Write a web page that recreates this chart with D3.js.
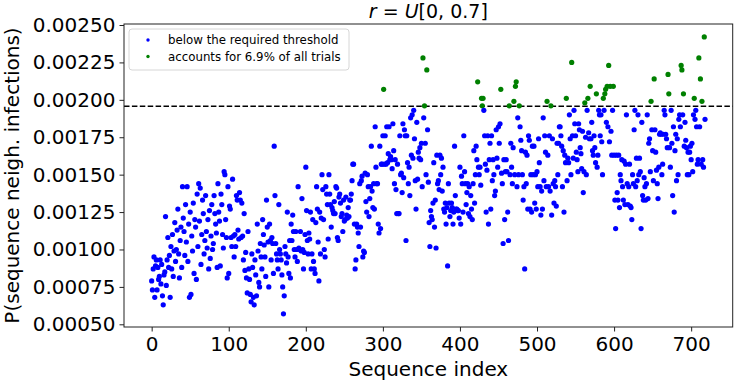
<!DOCTYPE html>
<html>
<head>
<meta charset="utf-8">
<script src="https://cdn.jsdelivr.net/npm/d3@7"></script>
<style>
	body { margin: 0; background: #fff; }
	svg { display: block; font-family: "DejaVu Sans", sans-serif; }
</style>
</head>
<body>
<div id="chart"></div>
<script>
// P(sequence neigh. infections) per sequence, in units of 1e-5, index 0..718
const SEQ_VALUES = [
	79,73,87,95,68,89,93,73,88,80, 82,93,77,90,69,63,83,85,122,76,
	93,108,88,96,68,102,87,110,82,99, 118,92,100,113,127,97,81,106,115,88,
	142,121,112,96,130,105,142,92,117,68, 125,70,109,99,131,84,120,115,80,137,
	102,144,119,141,90,110,133,124,97,106, 136,112,101,120,87,126,94,109,130,100,
	104,136,124,117,111,88,144,125,119,89, 137,130,110,101,152,150,120,108,81,142,
	84,129,127,108,102,147,109,95,110,102, 136,133,113,107,138,133,108,131,109,93,
	124,86,98,81,71,112,87,80,70,65, 97,88,68,63,93,83,69,117,99,78,
	75,104,95,87,120,110,103,95,82,133, 115,105,75,117,106,93,108,104,84,169,
	136,104,97,93,87,130,100,97,93,83, 75,57,69,102,97,91,125,95,84,106,
	81,117,106,123,112,100,95,112,100,92, 142,101,100,112,99,134,100,87,98,110,
	155,126,106,97,111,107,125,87,97,120, 92,87,84,118,142,127,105,79,125,97,
	121,150,140,120,100,95,142,137,130,107, 150,137,130,115,128,126,124,132,124,142,
	141,108,106,135,137,131,122,124,112,133, 119,120,135,123,121,128,122,133,133,137,
	146,157,157,117,87,93,117,115,111,102, 144,115,146,149,95,99,98,151,132,125,
	150,142,122,134,142,169,139,128,144,127, 182,155,144,144,117,111,169,114,157,157,
	176,207,157,176,157,182,158,164,182,160, 162,160,154,184,166,144,160,140,124,157,
	124,124,176,150,151,138,184,148,180,176, 106,176,158,144,155,136,188,163,190,161,
	193,174,146,127,185,147,165,161,168,160, 171,142,228,188,196,171,150,220,180,145,
	118,102,126,122,120,131,158,115,133,101, 163,144,146,140,163,150,161,139,155,127,
	125,131,117,128,89,144,131,122,126,131, 128,117,125,169,136,127,127,126,126,121,
	155,117,149,144,125,176,152,144,130,138, 144,124,142,122,136,127,120,144,166,131,
	150,169,160,212,155,150,155,143,201,196, 201,193,176,157,125,153,176,117,160,171,
	127,176,146,160,150,136,139,180,161,155, 182,171,184,207,151,144,104,160,120,152,
	160,152,125,106,196,150,171,155,144,168, 199,150,209,212,142,188,150,196,182,173,
	166,150,133,142,87,165,144,163,127,176, 173,127,150,125,169,150,169,131,150,127,
	152,142,174,158,142,123,139,127,188,146, 176,165,142,199,163,142,176,139,196,123,
	174,144,131,146,142,129,171,150,171,182, 182,176,169,142,166,125,163,158,201,146,
	161,158,190,174,150,225,176,161,193,184, 176,165,160,152,184,180,168,164,154,179,
	138,152,198,175,150,193,201,178,174,209, 174,185,166,163,176,168,158,204,155,163,
	193,190,176,190,172,150,201,193,204,207, 185,209,182,223,172,209,179,163,193,209,
	163,133,114,163,138,133,163,128,150,146, 160,142,133,159,130,157,190,144,130,142,
	157,129,128,120,150,144,180,193,142,161, 146,190,150,161,152,114,185,136,133,148,
	142,133,144,190,134,171,174,152,199,180, 166,146,214,180,165,153,144,134,155,177,
	178,177,150,157,177,193,190,177,174,168, 217,204,168,155,193,171,136,182,125,166,
	177,146,174,150,187,190,182,223,220,190, 204,169,185,173,168,150,165,150,165,169,
	160,171,152,190,201,187,193,182,157,160, 228,182,214,157,199,160,155,242,187
];
const VALUE_UNIT = 1e-5;
const THRESHOLD = 0.001957;
const X_TICKS = [0, 100, 200, 300, 400, 500, 600, 700];
const Y_TICKS = [0.0005, 0.00075, 0.001, 0.00125, 0.0015, 0.00175, 0.002, 0.00225, 0.0025];
const LEGEND_LABELS = ['below the required threshold', 'accounts for 6.9% of all trials'];

const WIDTH = 734;
const HEIGHT = 382;
const PLOT = { left: 124, right: 732.7, top: 24, bottom: 327 };
const COLORS = ['#0000ff', '#008000'];

const data = SEQ_VALUES.map((v, i) => ({ index: i, value: v * VALUE_UNIT }));

const svg = d3.select('#chart')
	.append('svg')
		.attr('width', WIDTH)
		.attr('height', HEIGHT);

const x = d3.scaleLinear()
	.domain([-35.9, 753.9])
	.range([PLOT.left, PLOT.right]);

const y = d3.scaleLinear()
	.domain([0.000482, 0.0025067])
	.range([PLOT.bottom, PLOT.top]);

const xAxisCall = d3.axisBottom(x)
	.tickValues(X_TICKS)
	.tickSize(4.5)
	.tickPadding(4)
	.tickFormat(d3.format('d'));
const yAxisCall = d3.axisLeft(y)
	.tickValues(Y_TICKS)
	.tickSize(4.5)
	.tickPadding(4)
	.tickFormat(d3.format('.5f'));

const xAxis = svg.append('g')
	.attr('transform', `translate(0, ${PLOT.bottom})`)
	.call(xAxisCall);
const yAxis = svg.append('g')
	.attr('transform', `translate(${PLOT.left}, 0)`)
	.call(yAxisCall);

[xAxis, yAxis].forEach(g => {
	g.select('.domain').remove();
	g.selectAll('line').attr('stroke', '#222').attr('stroke-width', 1);
	g.selectAll('text')
		.attr('fill', '#000')
		.attr('font-size', 20)
		.attr('font-family', '"DejaVu Sans", sans-serif');
});
xAxis.selectAll('text').attr('dy', '0.78em');

// threshold line
svg.append('line')
	.attr('x1', PLOT.left)
	.attr('x2', PLOT.right)
	.attr('y1', y(THRESHOLD))
	.attr('y2', y(THRESHOLD))
	.attr('stroke', '#000')
	.attr('stroke-width', 1.5)
	.attr('stroke-dasharray', '5.5,2.4');

svg.append('g')
	.selectAll('circle')
	.data(data)
	.enter()
	.append('circle')
		.attr('cx', d => x(d.index))
		.attr('cy', d => y(d.value))
		.attr('r', 2.6)
		.attr('fill', d => d.value > THRESHOLD ? COLORS[1] : COLORS[0]);

// frame
svg.append('rect')
	.attr('x', PLOT.left)
	.attr('y', PLOT.top)
	.attr('width', PLOT.right - PLOT.left)
	.attr('height', PLOT.bottom - PLOT.top)
	.attr('fill', 'none')
	.attr('stroke', '#222')
	.attr('stroke-width', 1);

// legend
const legend = svg.append('g');
legend.append('rect')
	.attr('x', 129)
	.attr('y', 29)
	.attr('width', 220)
	.attr('height', 41)
	.attr('rx', 3)
	.attr('fill', '#fff')
	.attr('fill-opacity', 0.8)
	.attr('stroke', '#d6d6d6');
LEGEND_LABELS.forEach((label, i) => {
	legend.append('circle')
		.attr('cx', 148)
		.attr('cy', 40 + i * 16.5)
		.attr('r', 1.7)
		.attr('fill', COLORS[i]);
	legend.append('text')
		.attr('x', 168)
		.attr('y', 44 + i * 16.5)
		.attr('font-size', 11.8)
		.attr('fill', '#000')
		.text(label);
});

// title r = U[0, 0.7]
const title = svg.append('text')
	.attr('x', (PLOT.left + PLOT.right) / 2)
	.attr('y', 17.5)
	.attr('text-anchor', 'middle')
	.attr('font-size', 19)
	.attr('fill', '#000');
title.append('tspan').attr('font-style', 'italic').text('r');
title.append('tspan').text(' = ');
title.append('tspan').attr('font-style', 'italic').text('U');
title.append('tspan').text('[0, 0.7]');

svg.append('text')
	.attr('x', (PLOT.left + PLOT.right) / 2)
	.attr('y', 376)
	.attr('text-anchor', 'middle')
	.attr('font-size', 20)
	.attr('fill', '#000')
	.text('Sequence index');

svg.append('text')
	.attr('x', -(PLOT.top + PLOT.bottom) / 2)
	.attr('y', 19)
	.attr('text-anchor', 'middle')
	.attr('font-size', 20)
	.attr('fill', '#000')
	.attr('transform', 'rotate(-90)')
	.text('P(sequence neigh. infections)');
</script>
</body>
</html>
